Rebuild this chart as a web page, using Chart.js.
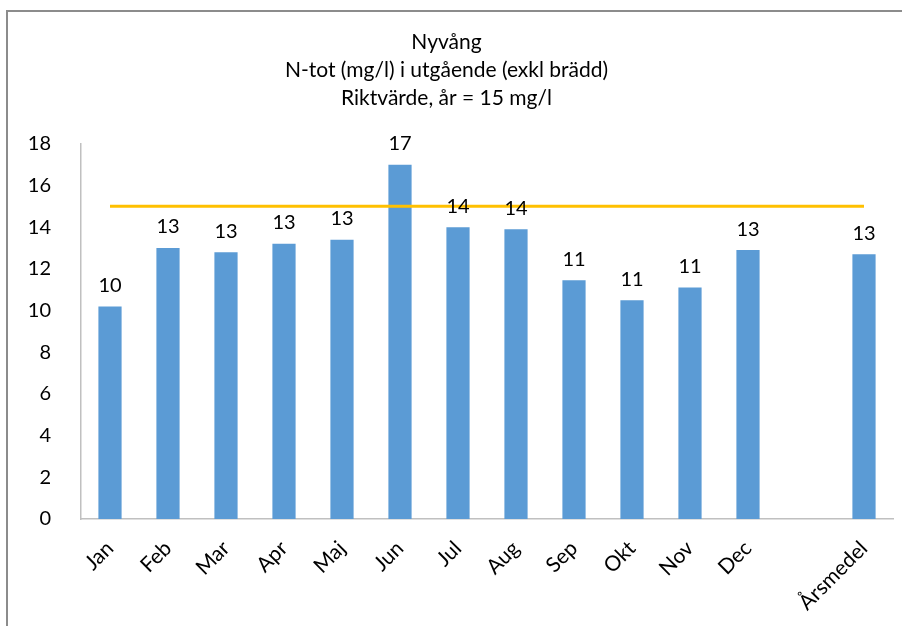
<!DOCTYPE html>
<html>
<head>
<meta charset="utf-8">
<script src="https://cdn.jsdelivr.net/npm/chart.js@4.4.1/dist/chart.umd.min.js"></script>
<style>
  html, body { margin: 0; padding: 0; background: #fff; }
  #wrap { position: relative; width: 902px; height: 626px; }
  #frame {
    position: absolute; left: 6px; top: 10px; right: -10px; bottom: -10px;
    border-top: 2px solid #8c8c8c; border-left: 2px solid #8c8c8c;
    pointer-events: none;
  }
</style>
</head>
<body>
<div id="wrap">
  <canvas id="chart1" width="902" height="626"></canvas>
  <div id="frame"></div>
</div>
<script>
const months = ['Jan', 'Feb', 'Mar', 'Apr', 'Maj', 'Jun', 'Jul', 'Aug', 'Sep', 'Okt', 'Nov', 'Dec', '', 'Årsmedel'];
const ntotValues = [10.2, 13.0, 12.8, 13.2, 13.4, 17.0, 14.0, 13.9, 11.45, 10.5, 11.1, 12.9, null, 12.7];
const riktvarde = [15, 15, 15, 15, 15, 15, 15, 15, 15, 15, 15, 15, 15, 15];
const titleLines = ['Nyvång', 'N-tot (mg/l) i utgående (exkl brädd)', 'Riktvärde, år = 15 mg/l'];
const yTicks = [0, 2, 4, 6, 8, 10, 12, 14, 16, 18];

const fontFamily = 'Lato, "Open Sans", sans-serif';

// draws the rounded value above each bar
const barLabels = {
    id: 'barLabels',
    afterDatasetsDraw(chart) {
        const ctx = chart.ctx;
        const meta = chart.getDatasetMeta(0);
        ctx.save();
        ctx.font = '20px ' + fontFamily;
        ctx.fillStyle = '#000';
        ctx.textAlign = 'center';
        ctx.textBaseline = 'middle';
        meta.data.forEach((bar, i) => {
            const v = ntotValues[i];
            if (v === null) return;
            ctx.fillText(Math.round(v), bar.x, bar.y - 21);
        });
        ctx.restore();
    }
};

const ctx = document.getElementById('chart1').getContext('2d');
new Chart(ctx, {
    data: {
        labels: months,
        datasets: [
            {
                type: 'bar',
                label: 'N-tot',
                data: ntotValues,
                backgroundColor: '#5B9BD5',
                barPercentage: 0.4,
                categoryPercentage: 1.0,
                order: 2
            },
            {
                type: 'line',
                label: 'Riktvärde',
                data: riktvarde,
                borderColor: '#FFC000',
                borderWidth: 3,
                pointRadius: 0,
                fill: false,
                order: 1
            }
        ]
    },
    options: {
        responsive: false,
        animation: false,
        layout: {
            padding: { left: 0, right: 9, top: 0, bottom: 0 }
        },
        scales: {
            x: {
                offset: true,
                grid: { display: false },
                border: { display: true, color: '#c0c0c0', width: 1.5 },
                ticks: {
                    color: '#000',
                    font: { family: fontFamily, size: 21 },
                    minRotation: 45,
                    maxRotation: 45,
                    autoSkip: false,
                    padding: 9
                },
                afterFit: (scale) => { scale.height = 107; }
            },
            y: {
                min: 0,
                max: 18,
                grid: { display: false },
                border: { display: true, color: '#c0c0c0', width: 1.5 },
                ticks: {
                    stepSize: 2,
                    color: '#000',
                    font: { family: fontFamily, size: 20 },
                    padding: 22
                },
                afterBuildTicks: (scale) => { scale.ticks = yTicks.map(v => ({ value: v })); },
                afterFit: (scale) => { scale.width = 81; }
            }
        },
        plugins: {
            legend: { display: false },
            tooltip: { enabled: false },
            title: {
                display: true,
                text: titleLines,
                color: '#000',
                font: { family: fontFamily, size: 21, weight: 'normal', lineHeight: 1.33 },
                padding: { top: 28, bottom: 32 }
            }
        }
    },
    plugins: [barLabels]
});
</script>
</body>
</html>
